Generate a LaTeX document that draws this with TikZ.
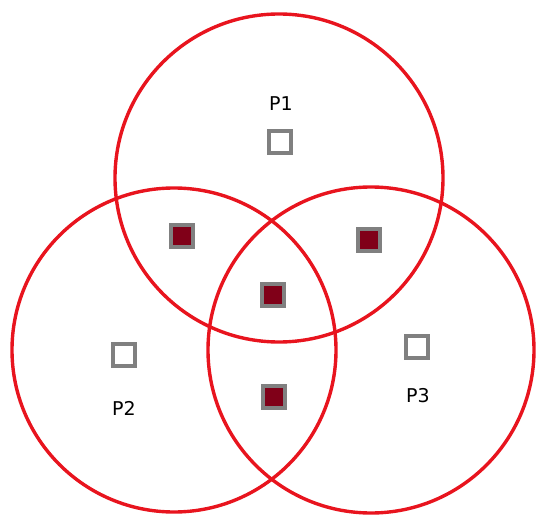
\documentclass[tikz,border=0pt]{standalone}
\usepackage{fontspec}
\setmainfont{DejaVu Sans}
\definecolor{ringred}{RGB}{232,20,30}
\definecolor{boxgrey}{RGB}{128,128,128}
\definecolor{darkfill}{RGB}{128,0,24}
\tikzset{
  ring/.style={draw=ringred, line width=3.4pt, circle, minimum size=#1, inner sep=0pt},
  emptybox/.style={draw=boxgrey, line width=4pt, fill=white, minimum size=21.5pt, inner sep=0pt},
  fullbox/.style={emptybox, fill=darkfill},
  lbl/.style={font=\fontsize{19}{22}\selectfont, inner sep=0pt}
}
\begin{document}
\begin{tikzpicture}[x=1pt,y=-1pt]
\useasboundingbox (0,0) rectangle (536,516);
\node[ring=328pt] (c1) at (279,178) {};
\node[ring=324pt] (c2) at (174,350) {};
\node[ring=326pt] (c3) at (371,350) {};
\node[lbl] (t1) at (281,104) {P1};
\node[lbl] (t2) at (124,408) {P2};
\node[lbl] (t3) at (418,396) {P3};
\node[emptybox] (b1) at (280,142) {};
\node[emptybox] (b2) at (124,355) {};
\node[emptybox] (b3) at (417,347) {};
\node[fullbox] (b12) at (182,236) {};
\node[fullbox] (b13) at (369,240) {};
\node[fullbox] (b123) at (273,295) {};
\node[fullbox] (b23) at (274,397) {};
\end{tikzpicture}
\end{document}
